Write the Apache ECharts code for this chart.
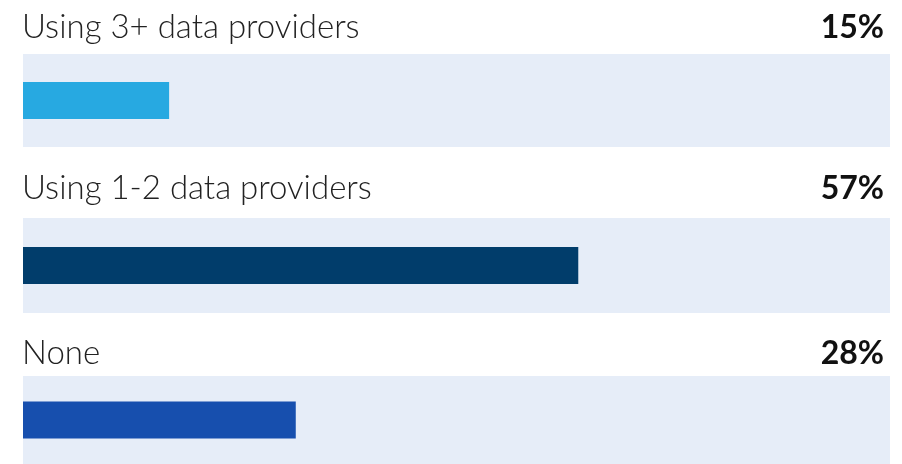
<!DOCTYPE html>
<html>
<head>
<meta charset="utf-8">
<style>
  html, body { margin: 0; padding: 0; background: #fff; }
  #chart { width: 902px; height: 464px; }
</style>
<script src="https://cdn.jsdelivr.net/npm/echarts@6/dist/echarts.min.js"></script>
</head>
<body>
<div id="chart"></div>
<script>
const categories = ['Using 3+ data providers', 'Using 1-2 data providers', 'None'];
const values = [15, 57, 28];
const barColors = ['#27a9e1', '#013d6b', '#174fae'];

// row layout (band = grid background)
const bandTop = [54, 218, 376];
const bandHeight = [93, 95, 94];
const labelTop = [11, 172, 337];

const chart = echarts.init(document.getElementById('chart'));

const option = {
  animation: false,
  title: categories.map((c, i) => ({
    text: c,
    left: 22,
    top: labelTop[i],
    padding: 0,
    textStyle: { fontFamily: 'Lato', fontWeight: 300, fontSize: 33, color: '#222' },
  })).concat(values.map((v, i) => ({
    text: v + '%',
    right: 18,
    top: labelTop[i] + 1,
    padding: 0,
    textStyle: { fontFamily: 'Lato', fontWeight: 'bold', fontSize: 32, color: '#111' },
  }))),
  grid: categories.map((c, i) => ({
    left: 23,
    right: 12,
    top: bandTop[i],
    height: bandHeight[i],
    show: true,
    backgroundColor: '#e6edf8',
    borderWidth: 0,
  })),
  xAxis: categories.map((c, i) => ({
    type: 'value',
    gridIndex: i,
    min: 0,
    max: 89,
    show: false,
  })),
  yAxis: categories.map((c, i) => ({
    type: 'category',
    gridIndex: i,
    data: [c],
    show: false,
  })),
  series: values.map((v, i) => ({
    type: 'bar',
    xAxisIndex: i,
    yAxisIndex: i,
    data: [v],
    barWidth: 37,
    itemStyle: { color: barColors[i] },
    silent: true,
  })),
};

chart.setOption(option);
</script>
</body>
</html>
